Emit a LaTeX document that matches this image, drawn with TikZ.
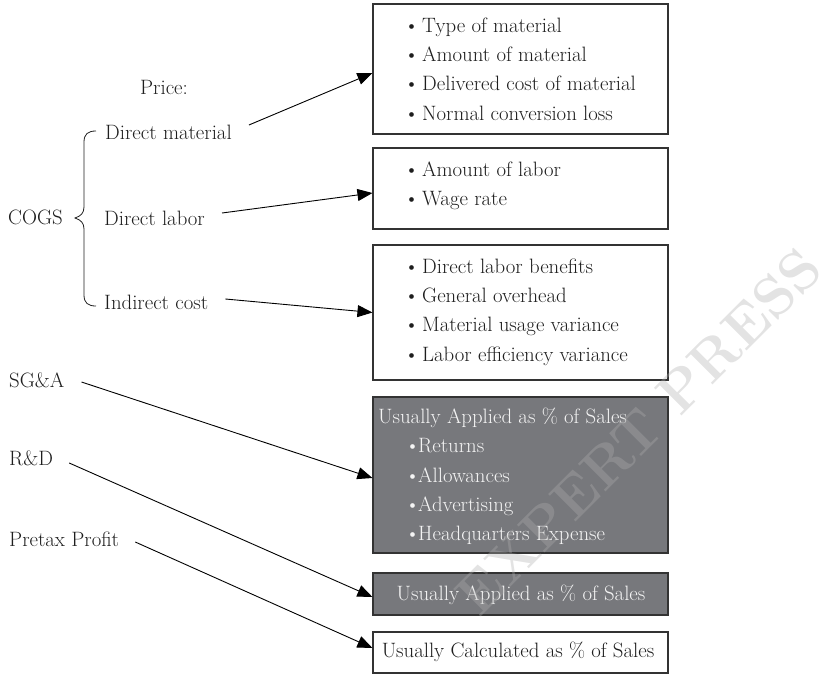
\documentclass[tikz,border=0pt]{standalone}
\usetikzlibrary{arrows.meta}
\definecolor{ink}{HTML}{1E1E1E}
\definecolor{frame}{HTML}{333333}
\definecolor{boxgray}{HTML}{77787C}
\definecolor{boxtext}{HTML}{F4F4F4}
\definecolor{mark}{HTML}{AEAEAE}
\newcommand\itm{\makebox[18pt][l]{\textbullet}}
\newcommand\itmg{\makebox[13pt][l]{\textbullet}}
\begin{document}
\begin{tikzpicture}[x=1pt,y=-1pt,
  every node/.style={font=\fontsize{20.8}{29.3}\selectfont, text=ink},
  lbl/.style={inner sep=0pt, anchor=west},
  wbox/.style={draw=frame, line width=1.1pt, fill=white, inner sep=0pt},
  gbox/.style={draw=frame, line width=1.1pt, fill=boxgray, inner sep=0pt},
  lst/.style={inner sep=0pt, anchor=west, align=left},
  arr/.style={-{Triangle[length=15pt,width=12pt]}, line width=0.9pt, draw=black}]
\useasboundingbox (0,0) rectangle (835,675);

% left-hand labels
\node[inner sep=0pt] (price) at (164,87) {Price:};
\node[lbl] (dm) at (105,132) {Direct material};
\node[lbl] (dl) at (104,218) {Direct labor};
\node[lbl] (ic) at (104,302) {Indirect cost};
\node[lbl] (cogs) at (8,217) {COGS};
\node[lbl] (sga) at (9,380) {SG\&A};
\node[lbl] (rd) at (9,458) {R\&D};
\node[lbl] (pp) at (9,539) {Pretax Profit};

% brace grouping the COGS components
\draw[line width=0.8pt, draw=ink] (96,131) .. controls (88,131) and (84,134) .. (84,142)
  -- (84,207) .. controls (84,213) and (81,216) .. (75,218)
  .. controls (81,220) and (84,223) .. (84,229)
  -- (84,295) .. controls (84,303) and (88,306) .. (96,306);

% boxes on the right
\node[wbox, minimum width=295pt, minimum height=130pt] (b1) at (520.5,69) {};
\node[wbox, minimum width=295pt, minimum height=81pt] (b2) at (520.5,188.5) {};
\node[wbox, minimum width=295pt, minimum height=135pt] (b3) at (520.5,312.5) {};
\node[gbox, minimum width=295pt, minimum height=156pt] (b4) at (520.5,475) {};
\node[gbox, minimum width=295pt, minimum height=42pt] (b5) at (520.5,594) {};
\node[wbox, minimum width=295pt, minimum height=41pt] (b6) at (520.5,652.5) {};

% box contents
\node[lst] (t1) at (404,69) {\itm Type of material\\ \itm Amount of material\\ \itm Delivered cost of material\\ \itm Normal conversion loss};
\node[lst] (t2) at (404,185.5) {\itm Amount of labor\\ \itm Wage rate};
\node[lst] (t3) at (404,312) {\itm Direct labor benefits\\ \itm General overhead\\ \itm Material usage variance\\ \itm Labor efficiency variance};
\node[lst, text=boxtext] (t4) at (378,476.5) {Usually Applied as \% of Sales\\ \hspace*{27pt}\itmg Returns\\ \hspace*{27pt}\itmg Allowances\\ \hspace*{27pt}\itmg Advertising\\ \hspace*{27pt}\itmg Headquarters Expense};
\node[inner sep=0pt, text=boxtext] (t5) at (521,595) {Usually Applied as \% of Sales};
\node[inner sep=0pt] (t6) at (518,652) {Usually Calculated as \% of Sales};

% connectors
\draw[arr] ([xshift=17pt,yshift=7pt]dm.east) -- ([yshift=-4pt]b1.west);
\draw[arr] ([xshift=17pt,yshift=5pt]dl.east) -- ([yshift=-4.5pt]b2.west);
\draw[arr] ([xshift=17pt,yshift=3pt]ic.east) -- (b3.west);
\draw[arr] ([xshift=17pt,yshift=-2pt]sga.east) -- ([yshift=-3pt]b4.west);
\draw[arr] ([xshift=16pt,yshift=-5pt]rd.east) -- ([yshift=-3pt]b5.west);
\draw[arr] ([xshift=16pt,yshift=-3pt]pp.east) -- ([yshift=4.5pt]b6.west);

% publisher watermark
\node[inner sep=0pt, anchor=base east, rotate=45, text=mark, opacity=0.35,
  font=\fontsize{57}{57}\selectfont\bfseries] (wm) at (826,272) {EXPERT PRESS};
\end{tikzpicture}
\end{document}
